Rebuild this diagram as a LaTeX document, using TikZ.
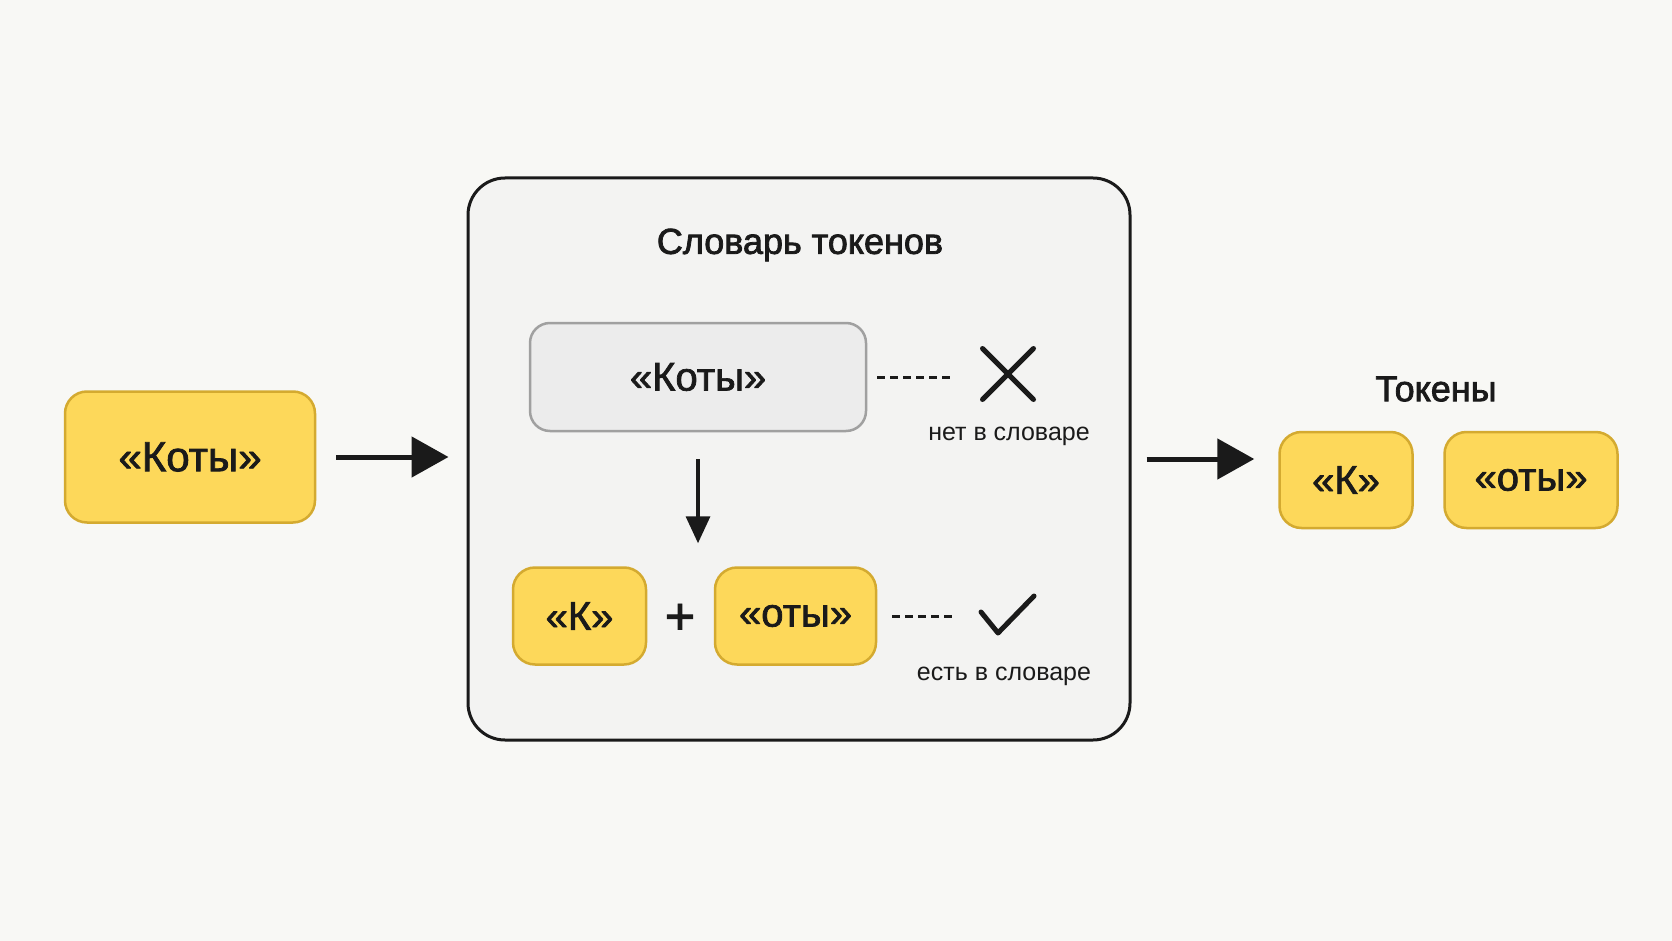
\documentclass[tikz,border=0pt]{standalone}
\usepackage{fontspec}
\setmainfont{Liberation Sans}
\newfontfamily\medfont[FakeBold=1.8]{Liberation Sans}
\newfontfamily\headfont[FakeBold=2.2]{Liberation Sans}
\usepackage{tikz}
\usetikzlibrary{arrows.meta,positioning,shapes.misc}
\definecolor{tokyellow}{RGB}{253,216,90}
\definecolor{tokborder}{RGB}{212,170,48}
\definecolor{bgpaper}{RGB}{248,248,245}
\definecolor{dictfill}{RGB}{243,243,242}
\definecolor{greyfill}{RGB}{236,236,236}
\definecolor{greyborder}{RGB}{160,160,160}
\definecolor{inkblack}{RGB}{26,26,26}

\begin{document}
\begin{tikzpicture}[x=1pt, y=-1pt,
    tok/.style 2 args={draw=tokborder, line width=2.5pt, fill=tokyellow, rounded corners=22pt, minimum width=#1, minimum height=#2, inner sep=0pt, text=inkblack, font=\medfont\fontsize{40}{46}\selectfont},
    greybox/.style={draw=greyborder, line width=2.5pt, fill=greyfill, rounded corners=20pt, minimum width=336pt, minimum height=108pt, inner sep=0pt, text=inkblack, font=\medfont\fontsize{40}{46}\selectfont},
    dictbox/.style={draw=inkblack, line width=3pt, fill=dictfill, rounded corners=37pt, minimum width=662pt, minimum height=562pt, inner sep=0pt},
    heading/.style={text=inkblack, font=\headfont\fontsize{36}{42}\selectfont},
    note/.style={text=inkblack, font=\fontsize{25}{30}\selectfont},
    bigarr/.style={-{Triangle[length=37pt, width=40pt]}, line width=5pt, draw=inkblack},
    thinarr/.style={-{Triangle[length=27pt, width=24pt]}, line width=3.5pt, draw=inkblack},
    dashline/.style={line width=3pt, draw=inkblack, dash pattern=on 8pt off 5pt},
    tickstroke/.style={line width=5pt, draw=inkblack, line cap=round, line join=round}
]
\fill[bgpaper] (0,0) rectangle (1672,941);

\node[tok={250pt}{131pt}, font=\medfont\fontsize{42}{48}\selectfont] (word) at (190,457) {«Коты»};
\node[dictbox] (dict) at (799,459) {};
\node[heading] (dtitle) at (800,245) {Словарь токенов};

\node[greybox] (whole) at (698,377) {«Коты»};
\node[cross out, tickstroke, minimum width=46pt, minimum height=46pt, inner sep=0pt] (nomark) at (1008,374) {};
\node[note] (nolabel) at (1009,436) {нет в словаре};

\node[tok={133pt}{97pt}] (syl1) at (579.5,616) {«К»};
\node[text=inkblack, font=\medfont\fontsize{52}{58}\selectfont] (plus) at (680,619) {+};
\node[tok={161pt}{97pt}] (syl2) at (795.5,616) {«оты»};
\node[minimum width=54pt, minimum height=42pt, inner sep=0pt] (yesmark) at (1007,615) {};
\node[note] (yeslabel) at (1004,676) {есть в словаре};

\node[heading] (ttitle) at (1436,389) {Токены};
\node[tok={133pt}{96pt}] (tok1) at (1346,480) {«К»};
\node[tok={173pt}{96pt}] (tok2) at (1531,480) {«оты»};

% connectors
\draw[bigarr, shorten <=20pt, shorten >=18pt] (word.east) -- (word.east -| dict.west);
\draw[bigarr, shorten <=15pt, shorten >=24pt] (dict.east) -- (dict.east -| tok1.west);
\draw[thinarr, shorten <=27pt, shorten >=23pt] (whole.south) -- (whole.south |- syl1.north);
\draw[dashline, shorten <=10pt, shorten >=30pt] (whole.east) -- (whole.east -| nomark.west);
\draw[dashline, shorten <=15pt, shorten >=25pt] (syl2.east) -- (syl2.east -| yesmark.west);
\draw[tickstroke] ([shift={(-26,-3)}]yesmark.center) -- ([shift={(-9,18)}]yesmark.center) -- ([shift={(27,-19)}]yesmark.center);
\end{tikzpicture}
\end{document}
